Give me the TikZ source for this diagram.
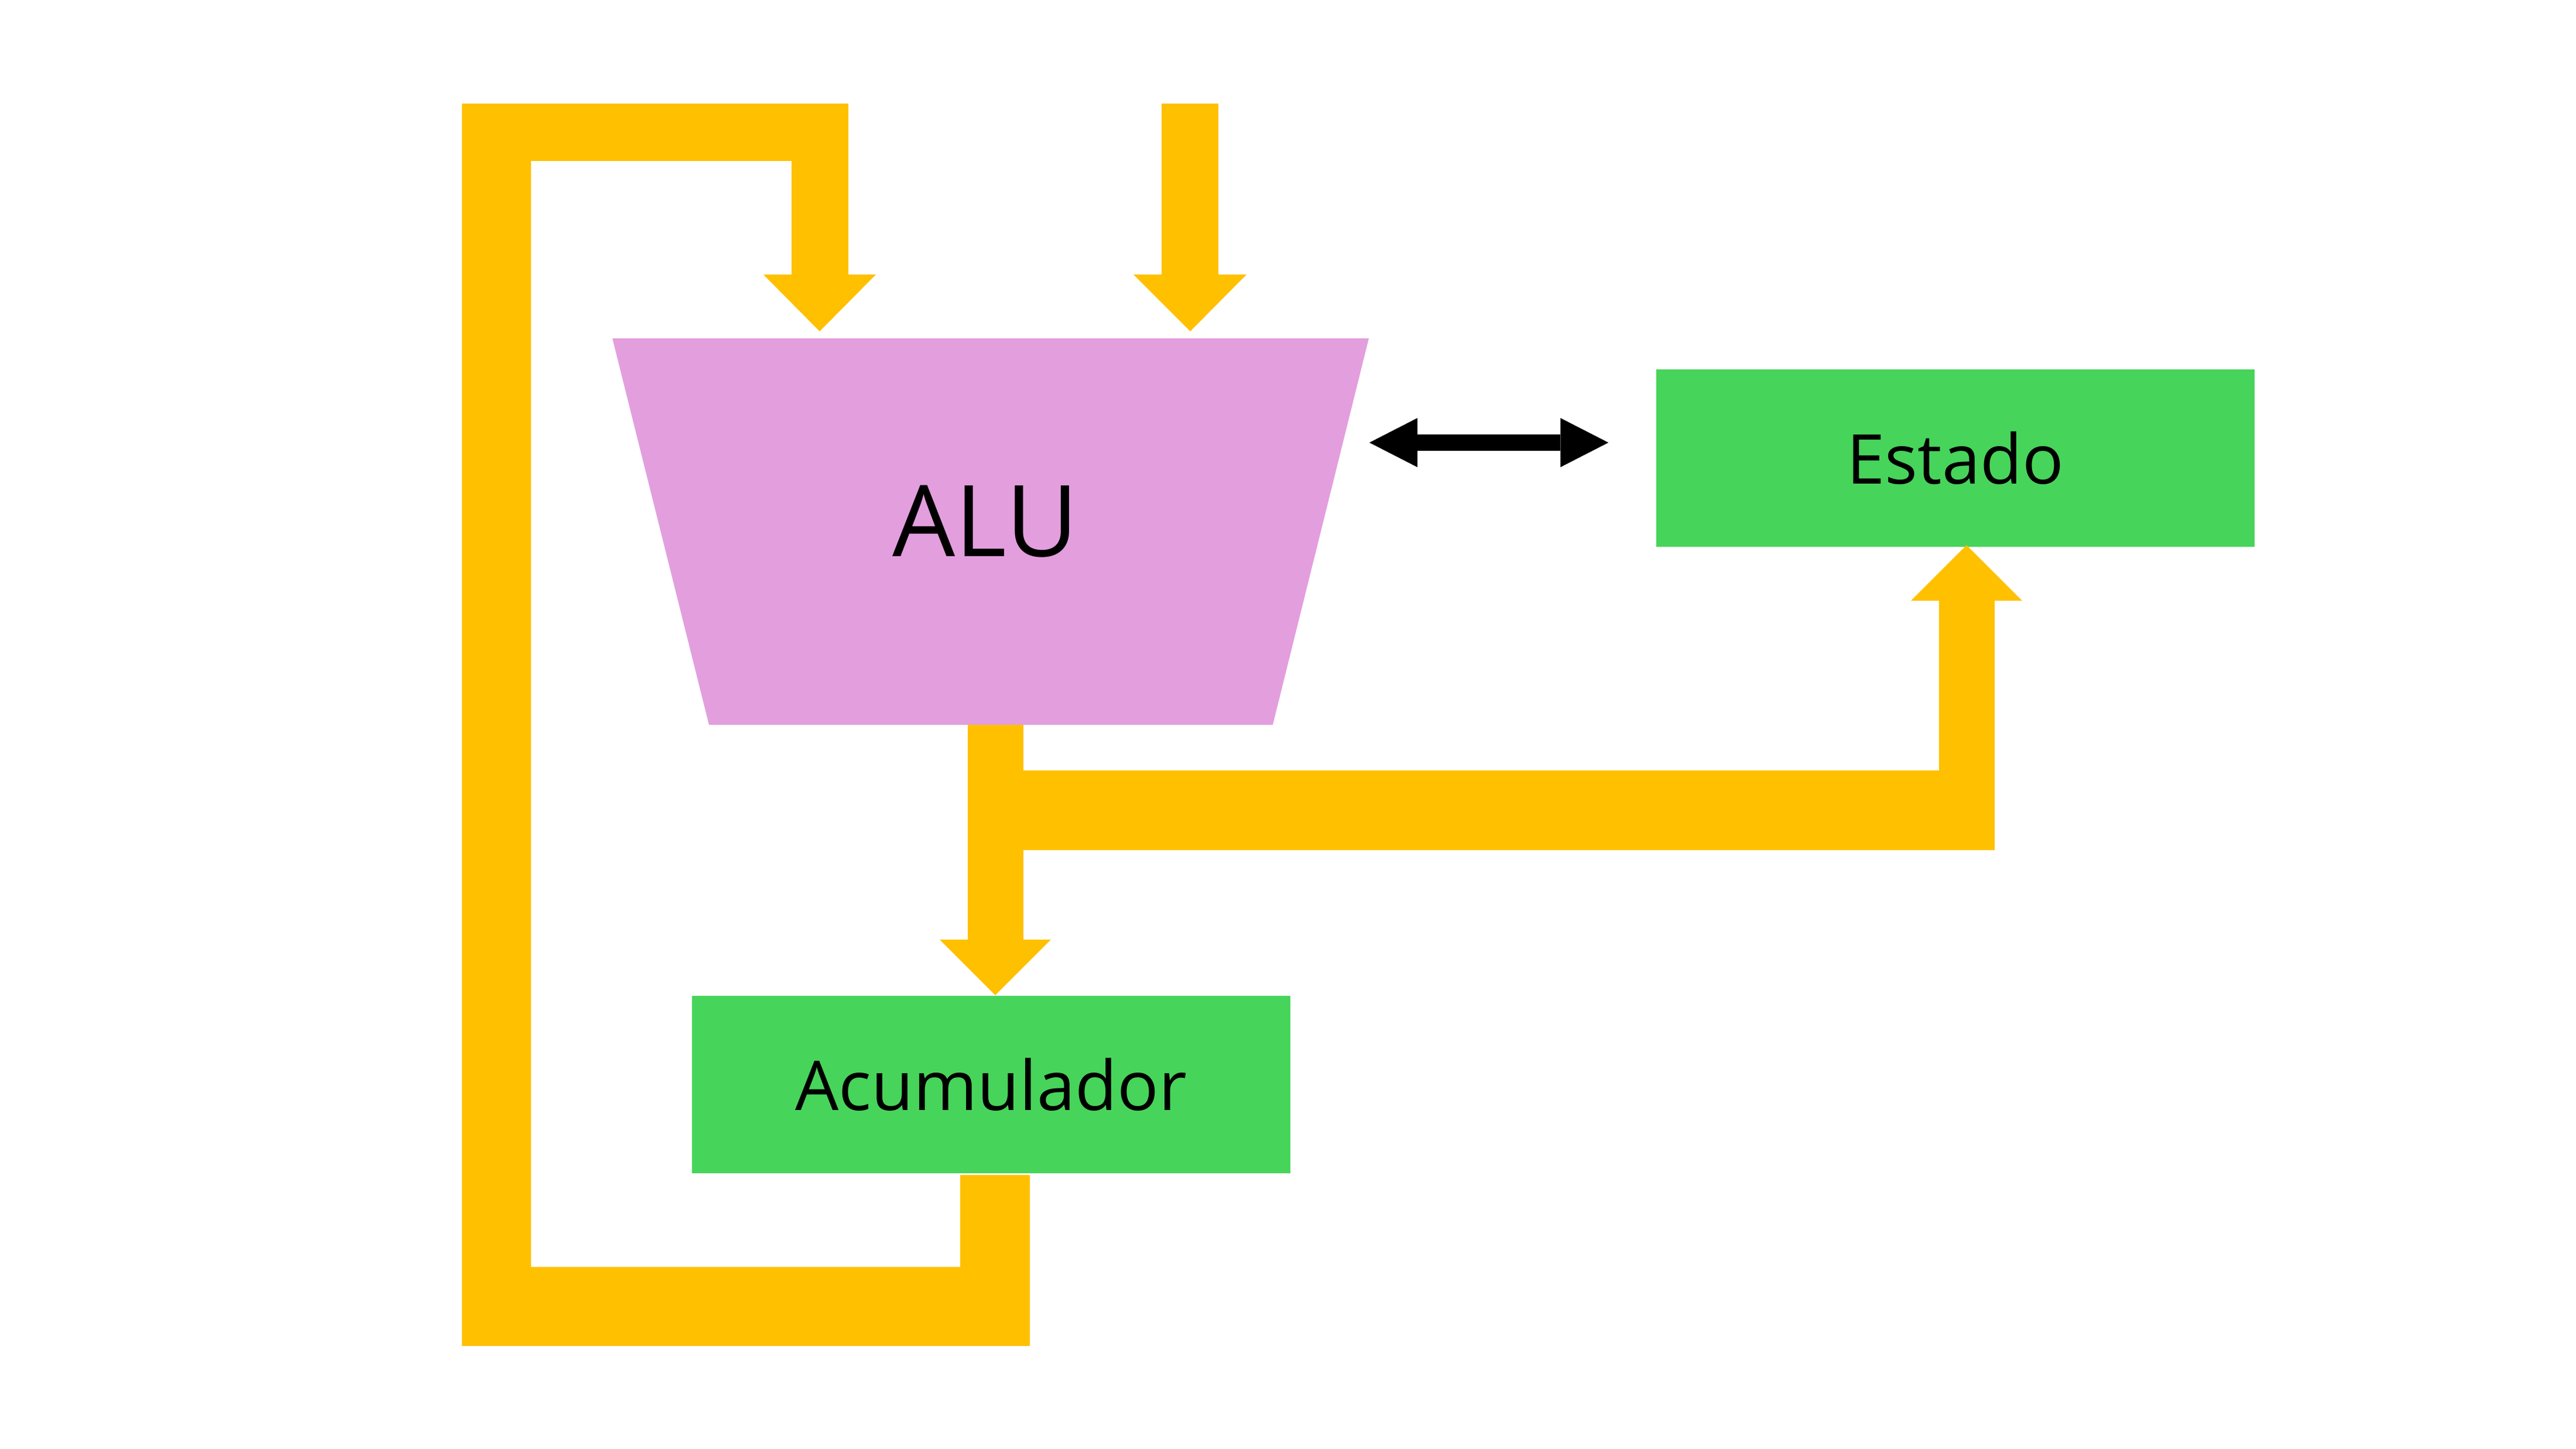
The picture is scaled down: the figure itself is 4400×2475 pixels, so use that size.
\documentclass[tikz,border=0pt]{standalone}
\usepackage{fontspec}
\setmainfont{Open Sans}
\usetikzlibrary{arrows.meta, calc}
\definecolor{busyellow}{HTML}{FFC000}
\definecolor{alupink}{HTML}{E39EDD}
\definecolor{boxgreen}{HTML}{47D45A}
\tikzset{
    my-box/.style={
        fill=boxgreen, minimum width=102.2mm, minimum height=30.3mm, inner sep=0pt,
        font=\fontsize{33.4}{40}\selectfont
    },
    my-alu-label/.style={
        font=\fontsize{48.2}{58}\selectfont
    },
    my-bus/.style={
        fill=busyellow
    },
    my-flag-arrow/.style={
        line width=2.8mm,
        {Triangle[width=8.4mm, length=8.2mm, line width=0pt]}-{Triangle[width=8.4mm, length=8.2mm, line width=0pt]}
    },
}
\begin{document}
\begin{tikzpicture}[x=0.1mm, y=-0.1mm]
        \useasboundingbox (0,0) rectangle (4400,2475);

        % ALU, CORNERS AND PORTS
        \coordinate (ALUNW) at (1046,578);
        \coordinate (ALUNE) at (2338,578);
        \coordinate (ALUSE) at (2174,1238);
        \coordinate (ALUSW) at (1211,1238);
        \fill[alupink] (ALUNW) -- (ALUNE) -- (ALUSE) -- (ALUSW) -- cycle;
        \node[my-alu-label] (ALU) at (1683,891) {ALU};
        \coordinate (ALUIN1) at ($(ALUNW) + (354,-12)$);
        \coordinate (ALUIN2) at ($(ALUNW) + (987,-12)$);
        \coordinate (ALUOUT) at ($(ALUSW) + (489,0)$);

        % REGISTERS
        \node[my-box] (ESTADO) at (3340,782)  {Estado};
        \node[my-box] (ACC)    at (1693,1852) {Acumulador};
        \coordinate (ESTADOIN) at ($(ESTADO.south) + (19,-3)$);
        \coordinate (ACCIN)    at (ALUOUT |- ACC.north);
        \coordinate (ACCOUT)   at ($(ACC.south) + (6,3)$);

        % INPUT BUS 2
        \coordinate (IN2) at (ALUIN2 |- 0,177);
        \fill[my-bus] ($(IN2) + (-49,0)$) -- ++(97,0) -- ++(0,292) -- ++(48,0)
            -- (ALUIN2) -- ++(-97,-97) -- ++(48,0) -- cycle;

        % FEEDBACK BUS, ACUMULADOR BACK TO INPUT 1
        \fill[my-bus] ($(ACCOUT) + (-59,0)$) -- ++(119,0) -- ++(0,292) -- (789,2299)
            -- (789,177) -- (1449,177) -- (1449,469) -- (1496,469)
            -- (ALUIN1) -- (1304,469) -- (1352,469) -- (1352,275)
            -- (907,275) -- (907,2164) -- ($(ACCOUT) + (-59,157)$) -- cycle;

        % OUTPUT BUS TO ACUMULADOR AND ESTADO
        \coordinate (BUSTOP) at ($(ALUOUT) + (48,78)$);
        \coordinate (BUSBOT) at ($(ALUOUT) + (48,214)$);
        \fill[my-bus] ($(ALUOUT) + (-47,0)$) -- ++(95,0) -- (BUSTOP)
            -- ($(BUSTOP -| ESTADOIN) + (-47,0)$) -- ($(ESTADOIN) + (-47,95)$) -- ++(-48,0)
            -- (ESTADOIN) -- ++(95,95) -- ++(-47,0)
            -- ($(BUSBOT -| ESTADOIN) + (48,0)$)
            -- (BUSBOT) -- ($(ACCIN) + (48,-95)$) -- ++(47,0)
            -- (ACCIN) -- ++(-95,-95) -- ++(48,0) -- cycle;

        % FLAGS BETWEEN ALU AND ESTADO
        \coordinate (FLAGL) at ($(ALUNE) + (1,178)$);
        \coordinate (FLAGR) at ($(ESTADO.west) + (-81,-26)$);
        \draw[my-flag-arrow] (FLAGL) -- (FLAGR);

\end{tikzpicture}
\end{document}
